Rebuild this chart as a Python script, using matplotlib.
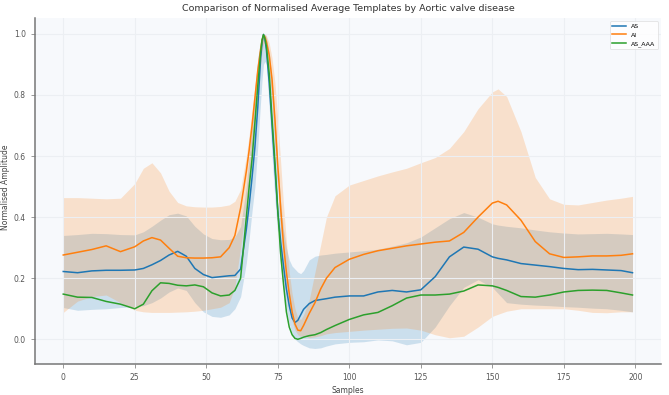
import numpy as np
import matplotlib
matplotlib.use("Agg")
import matplotlib.pyplot as plt

# sample positions where the templates were read
samples = [0, 5, 10, 15, 20, 25, 28, 31, 34, 37, 40, 43, 46, 49, 52, 55, 58, 60, 62,
           64, 65, 66, 67, 68, 69, 69.5, 70, 70.5, 71, 72, 73, 74, 75, 76, 77, 78, 79, 80, 81, 82, 83, 84,
           86, 88, 90, 92, 95, 100, 105, 110, 115, 120, 125, 130, 135, 140, 145, 150, 152,
           155, 160, 165, 170, 175, 180, 185, 190, 195, 199]

# AS
as_mean = [.222, .218, .224, .226, .226, .227, .232, .244, .258, .276, .288, .272, .232, .212, .202, .205, .208, .209, .23,
           .36, .44, .53, .63, .76, .92, .97, .998, .985, .95, .84, .70, .56, .42, .32, .24, .165, .11, .07, .055, .062, .08, .098,
           .117, .127, .13, .133, .138, .142, .142, .155, .16, .155, .162, .205, .27, .302, .295, .27, .265,
           .26, .248, .243, .238, .232, .228, .229, .227, .225, .218]
as_upper = [.34, .343, .347, .346, .343, .342, .352, .37, .39, .408, .413, .404, .37, .345, .33, .326, .327, .335, .37,
            .50, .60, .70, .82, .92, .98, .995, 1.0, 1.0, .99, .94, .85, .72, .58, .45, .36, .30, .26, .24, .23, .22, .215, .225,
            .26, .272, .276, .278, .282, .286, .29, .295, .305, .316, .335, .365, .395, .415, .40, .378, .374,
            .37, .365, .358, .352, .348, .345, .346, .347, .345, .343]
as_lower = [.104, .095, .098, .10, .104, .107, .11, .12, .135, .155, .168, .16, .12, .09, .075, .072, .08, .10, .14,
            .25, .33, .42, .50, .63, .78, .85, .90, .91, .90, .76, .60, .46, .34, .24, .16, .10, .05, .02, .0, -.008, -.015, -.02,
            -.028, -.03, -.028, -.022, -.015, -.01, -.008, -.002, -.005, -.018, -.01, .04, .11, .17, .195, .17, .15,
            .12, .115, .112, .11, .107, .105, .102, .10, .095, .09]

# AI
ai_mean = [.276, .285, .294, .306, .287, .303, .322, .333, .325, .298, .272, .267, .266, .266, .267, .27, .30, .34, .43,
           .55, .62, .70, .79, .88, .95, .98, .995, .99, .975, .93, .85, .72, .57, .43, .31, .22, .15, .09, .05, .03, .028, .045,
           .085, .12, .165, .20, .235, .262, .278, .29, .298, .306, .312, .318, .322, .35, .40, .446, .452,
           .44, .39, .32, .28, .268, .27, .273, .273, .275, .28]
ai_upper = [.464, .464, .462, .46, .462, .51, .56, .578, .545, .485, .448, .437, .434, .433, .433, .435, .44, .452, .49,
            .60, .67, .75, .83, .91, .97, .99, 1.0, 1.0, .995, .97, .92, .84, .72, .58, .44, .32, .22, .15, .10, .07, .065, .08,
            .13, .22, .31, .40, .47, .505, .52, .535, .548, .56, .578, .595, .625, .68, .755, .81, .82,
            .795, .68, .53, .46, .442, .44, .448, .456, .462, .468]
ai_lower = [.088, .125, .14, .145, .12, .095, .09, .088, .088, .088, .089, .09, .092, .095, .10, .105, .12, .17, .30,
            .45, .52, .61, .70, .81, .90, .945, .97, .965, .95, .88, .78, .64, .50, .36, .25, .16, .10, .06, .03, .015, .01, .012,
            .005, .008, .012, .018, .022, .026, .03, .033, .036, .037, .03, .015, .005, .01, .04, .075, .082,
            .092, .10, .10, .10, .10, .095, .088, .087, .09, .09]

# AS_AAA
aaa_mean = [.148, .138, .137, .124, .115, .10, .115, .159, .185, .183, .177, .175, .178, .172, .152, .142, .145, .16, .20,
            .40, .50, .59, .71, .83, .94, .98, .998, .985, .96, .87, .72, .58, .42, .28, .18, .09, .04, .015, .003, .0, .003, .007,
            .012, .015, .022, .032, .045, .065, .08, .088, .11, .135, .145, .145, .148, .158, .178, .175, .17,
            .16, .14, .138, .145, .155, .16, .161, .16, .152, .145]

labels = ["AS", "AI", "AS_AAA"]
colors = ["#1f77b4", "#ff7f0e", "#2ca02c"]

fig = plt.figure(figsize=(6.69, 3.95), dpi=100)
ax = fig.add_axes([0.052, 0.078, 0.936, 0.876])
ax.set_facecolor("#f7f9fc")

# bandas de desvio (AS e AI)
ax.fill_between(samples, as_lower, as_upper, color=colors[0], alpha=0.2, linewidth=0)
ax.fill_between(samples, ai_lower, ai_upper, color=colors[1], alpha=0.2, linewidth=0)

ax.plot(samples, as_mean, color=colors[0], linewidth=1.1, label=labels[0])
ax.plot(samples, ai_mean, color=colors[1], linewidth=1.1, label=labels[1])
ax.plot(samples, aaa_mean, color=colors[2], linewidth=1.1, label=labels[2])

ax.grid(True, color="#eceff3", linewidth=0.8)
for side in ["top", "right"]:
    ax.spines[side].set_visible(False)
for side in ["left", "bottom"]:
    ax.spines[side].set_color("#777777")
    ax.spines[side].set_linewidth(1.1)

ax.tick_params(labelsize=5.5, colors="#888888", labelcolor="#555555", length=3, width=0.6)
ax.set_xticks([0, 25, 50, 75, 100, 125, 150, 175, 200])
ax.set_yticks([0.0, 0.2, 0.4, 0.6, 0.8, 1.0])

ax.set_title("Comparison of Normalised Average Templates by Aortic valve disease",
             fontsize=6.8, color="#333333", pad=5)
ax.set_xlabel("Samples", fontsize=5.5, color="#444444", labelpad=3)
ax.set_ylabel("Normalised Amplitude", fontsize=5.5, color="#444444")
ax.yaxis.set_label_coords(-0.04, 0.51)

leg = ax.legend(loc="upper right", fontsize=4.5, frameon=True, handlelength=2.2)
leg.get_frame().set_edgecolor("#dddddd")
leg.get_frame().set_linewidth(0.6)

fig.savefig("out.png", dpi=100)
